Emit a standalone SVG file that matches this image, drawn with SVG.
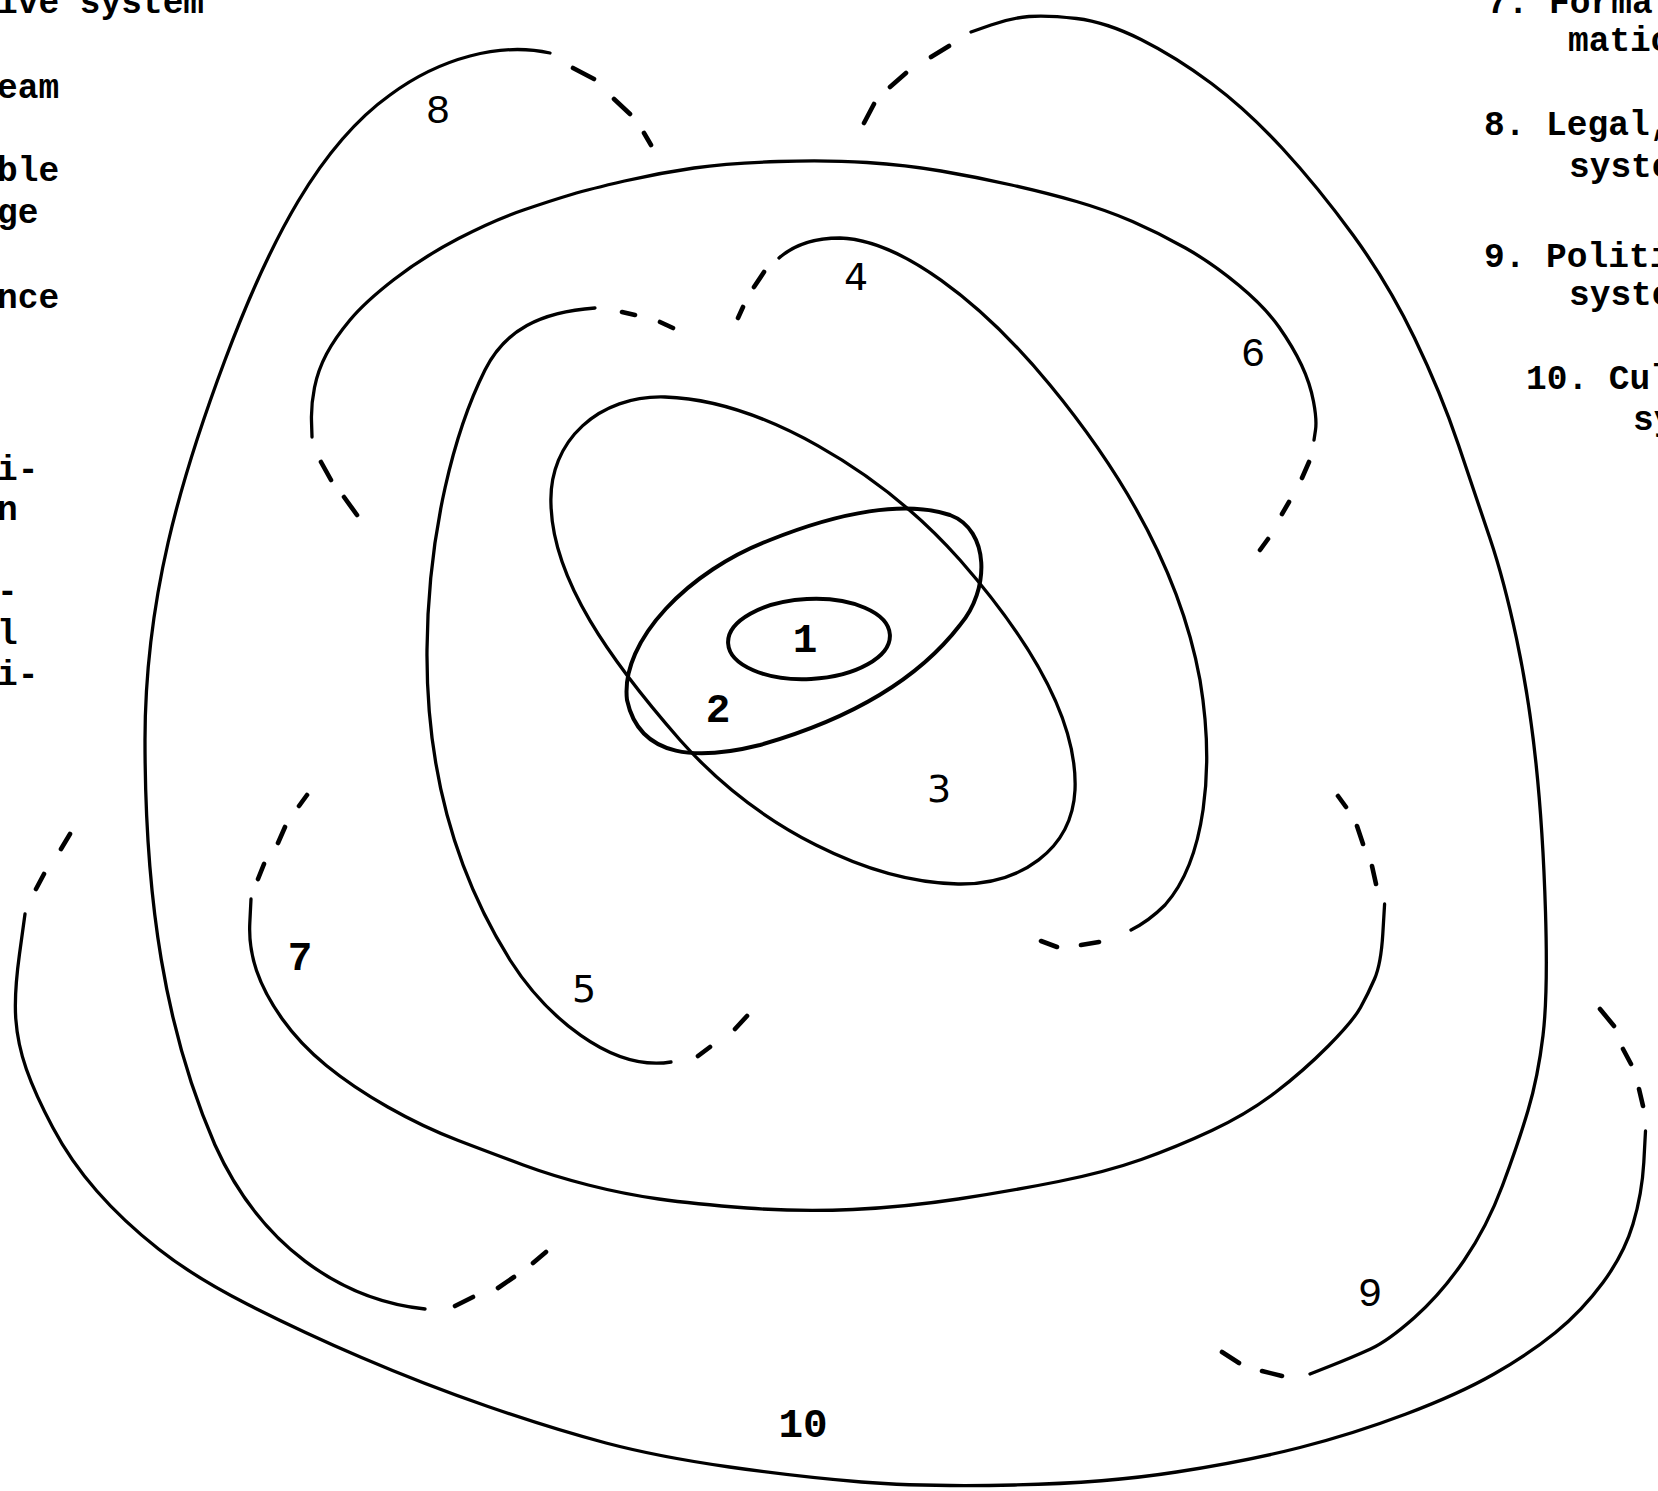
<svg xmlns="http://www.w3.org/2000/svg" width="1658" height="1491" viewBox="0 0 1658 1491">
<style>
.c{fill:none;stroke:#000;stroke-width:3.3;stroke-linecap:round;stroke-linejoin:round}
.b{fill:none;stroke:#000;stroke-width:4;stroke-linecap:round;stroke-linejoin:round}
.d{fill:none;stroke:#000;stroke-width:4.6;stroke-linecap:round}
.t{font-family:"Liberation Mono","DejaVu Sans Mono",monospace;font-weight:bold;font-size:34.5px;fill:#000}
.n{font-family:"Liberation Mono","DejaVu Sans Mono",monospace;font-size:41px;fill:#000;text-anchor:middle}
.nb{font-weight:bold}
.h{font-family:"DejaVu Sans","Liberation Sans",sans-serif;font-size:38px;fill:#000;text-anchor:middle}
</style>
<rect width="1658" height="1491" fill="#fff"/>
<g id="legend-left">
<text class="t" x="-3" y="13">ive system</text>
<text class="t" x="-3" y="98">eam</text>
<text class="t" x="-3" y="181">ble</text>
<text class="t" x="-3" y="223">ge</text>
<text class="t" x="-3" y="308">nce</text>
<text class="t" x="-3" y="480">i-</text>
<text class="t" x="-3" y="520">n</text>
<text class="t" x="-3" y="602">-</text>
<text class="t" x="-3" y="644">l</text>
<text class="t" x="-3" y="685">i-</text>
</g>
<g id="legend-right">
<text class="t" x="1487" y="13">7. Forma</text>
<text class="t" x="1568" y="51">matio</text>
<text class="t" x="1484" y="135">8. Legal,</text>
<text class="t" x="1569" y="177">syste</text>
<text class="t" x="1484" y="267">9. Politi</text>
<text class="t" x="1569" y="305">syste</text>
<text class="t" x="1526" y="389">10. Cul</text>
<text class="t" x="1633" y="430">sy</text>
</g>
<g id="node-1">
<ellipse class="b" cx="809" cy="639" rx="81" ry="40" transform="rotate(-3 809 639)"/>
<text class="n nb" x="805" y="652">1</text>
</g>
<g id="node-2">
<path class="b" d="M627,700 C620,640 690,570 770,540 C840,512 905,500 950,515 C990,530 990,590 960,625 C910,690 830,725 760,745 C700,760 640,760 627,700 Z"/>
<text class="n nb" x="718" y="722">2</text>
</g>
<g id="node-3">
<path class="c" d="M551,505 C548,440 600,395 665,397 C760,400 880,470 960,560 C1030,640 1078,720 1075,790 C1072,850 1020,885 958,884 C870,882 760,830 680,740 C610,660 553,580 551,505 Z"/>
<text class="h" x="939" y="802">3</text>
</g>
<g id="node-4">
<path class="c" d="M779,258 C795,244 815,238 840,238 C900,240 980,300 1050,385 C1120,470 1180,570 1200,680 C1215,770 1205,860 1165,905 C1155,915 1145,923 1131,930"/>
<path class="d" d="M738,318 L743,307 M754,287 L764,272 M1099,942 L1081,945 M1057,947 L1041,941"/>
<text class="h" x="856" y="290">4</text>
</g>
<g id="node-5">
<path class="c" d="M595,308 C540,312 505,330 485,370 C455,430 428,530 427,650 C426,780 460,880 510,960 C545,1015 610,1072 671,1062"/>
<path class="d" d="M622,312 L635,315 M660,322 L673,328 M698,1056 L710,1047 M735,1029 L747,1016"/>
<text class="h" x="584" y="1002">5</text>
</g>
<g id="node-6">
<path class="c" d="M312,437 L311.5,421 Q311,405 314.5,387.5 Q318,370 326.5,354 Q335,338 350,320 Q365,302 394,279.5 Q423,257 458.5,238.5 Q494,220 523.5,210 Q553,200 571.5,194.5 Q590,189 624.5,181 Q659,173 694,168 Q729,163 778.5,161.5 Q828,160 867,162.5 Q906,165 941,171 Q976,177 1011.5,185 Q1047,193 1076.5,201.5 Q1106,210 1132.5,221.5 Q1159,233 1185.5,248 Q1212,263 1238.5,285 Q1265,307 1279,327 Q1293,347 1301.5,365 Q1310,383 1313.5,401.5 Q1317,420 1315.5,430 L1314,440"/>
<path class="d" d="M321,462 L331,480 M344,497 L357,515 M1309,462 L1302,478 M1289,502 L1282,514 M1268,539 L1260,550"/>
<text class="n" x="1253" y="366">6</text>
</g>
<g id="node-7">
<path class="c" d="M251,899 L249.8,923 Q248.6,947 256.5,970.5 Q264.5,994 282.3,1019 Q300,1044 326.3,1065.5 Q352.6,1087 387.8,1107 Q423,1127 458.3,1140.5 Q493.6,1154 523.3,1165 Q553,1176 588.3,1185 Q623.5,1194 658.8,1199 Q694,1204 747,1208 Q800,1212 852.8,1209.5 Q905.6,1207 958.3,1199 Q1011,1191 1058.5,1181.5 Q1106,1172 1141.3,1159.5 Q1176.5,1147 1211.8,1130.5 Q1247,1114 1275.3,1092.5 Q1303.5,1071 1328.3,1046 Q1353,1021 1360.5,1007.5 Q1368,994 1374.5,979 Q1381,964 1382.8,934 L1384.6,904"/>
<path class="d" d="M307,795 L299,806 M285,827 L278,843 M264,864 L258,879 M1376,884 L1372,866 M1363,844 L1357,826 M1346,807 L1338,796"/>
<text class="n nb" x="300" y="970">7</text>
</g>
<g id="node-8">
<path class="c" d="M550,53 C500,42 440,58 390,95 C320,145 270,240 225,360 C180,480 145,600 145,740 C145,900 165,1030 215,1145 C260,1245 340,1300 425,1309"/>
<path class="d" d="M573,68 L594,79 M614,99 L630,114 M644,133 L651,145 M455,1306 L473,1297 M498,1288 L514,1277 M533,1263 L546,1252"/>
<text class="n" x="438" y="123">8</text>
</g>
<g id="node-9">
<path class="c" d="M971,32 L991,25 Q1011,18 1029,16.5 Q1047,15 1076.5,18.5 Q1106,22 1141,39.5 Q1176,57 1211.5,83.5 Q1247,110 1282.5,148.5 Q1318,187 1353,235 Q1388,283 1414.5,338 Q1441,393 1458.5,445 Q1476,497 1490,538.5 Q1504,580 1516.5,638.5 Q1529,697 1536,763.5 Q1543,830 1545.5,912 Q1548,994 1543,1035.5 Q1538,1077 1528,1110.5 Q1518,1144 1502.5,1185.5 Q1487,1227 1464,1260.5 Q1441,1294 1414.5,1317.5 Q1388,1341 1370.5,1349 Q1353,1357 1331.5,1365.5 L1310,1374"/>
<path class="d" d="M864,123 L874,104 M890,87 L906,73 M931,57 L949,46 M1282,1376 L1262,1371 M1239,1363 L1222,1352"/>
<text class="n" x="1370" y="1306">9</text>
</g>
<g id="node-10">
<path class="c" d="M25,914 L19.5,954 Q14,994 15.8,1019 Q17.6,1044 26.3,1069 Q35,1094 52.8,1127.5 Q70.5,1161 96.8,1191 Q123,1221 158.5,1249 Q194,1277 247,1304 Q300,1331 361.5,1357.5 Q423,1384 488,1406.5 Q553,1429 606,1443 Q659,1457 729.5,1467 Q800,1477 861.5,1482 Q923,1487 1014.5,1485 Q1106,1483 1176.5,1472 Q1247,1461 1300,1447.5 Q1353,1434 1406,1414 Q1459,1394 1494,1374 Q1529,1354 1555.5,1332.5 Q1582,1311 1603,1282.5 Q1624,1254 1633,1224 Q1642,1194 1643.8,1162.5 L1645.5,1131"/>
<path class="d" d="M70,834 L61,849 M44,874 L36,889 M1643,1106 L1639,1089 M1631,1064 L1623,1049 M1614,1026 L1600,1009"/>
<text class="n nb" x="803" y="1437">10</text>
</g>
<g id="connectors"></g>
</svg>
